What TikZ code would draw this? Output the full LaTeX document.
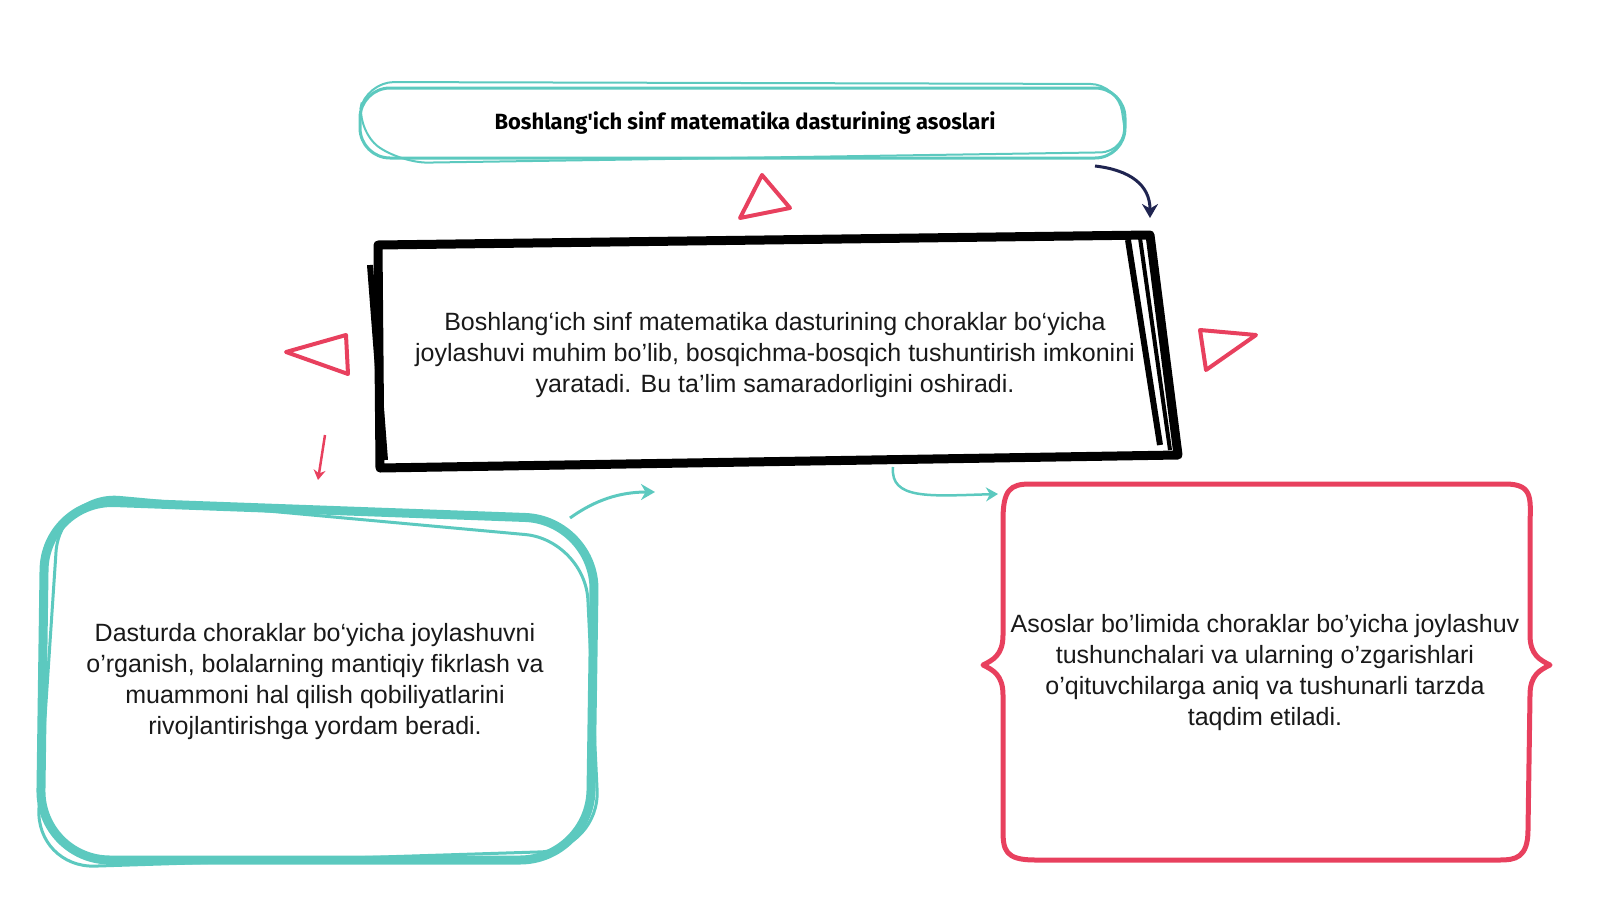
\documentclass[tikz,border=0pt]{standalone}
\usepackage{fontspec}
\setmainfont{Liberation Sans}
\newfontfamily\titlefont{Fira Sans}
\usetikzlibrary{arrows.meta}
\definecolor{teal1}{HTML}{5CC9BF}
\definecolor{red1}{HTML}{E8405E}
\definecolor{navy1}{HTML}{1F2450}
\begin{document}
\begin{tikzpicture}[x=1pt,y=-1pt,
 body/.style={align=center,font=\fontsize{25}{31}\selectfont,text=black!90},
 tri/.style={draw=red1,line width=4pt,line join=round},
 arr/.style={line width=3pt,-{Stealth[length=14pt,width=16pt]}}]
\useasboundingbox (0,0) rectangle (1600,900);
% title box
\draw[teal1,line width=3pt,rounded corners=30pt] (360,88) rectangle (1125,158);
\draw[teal1,line width=2pt,rounded corners=28pt] (366,82) -- (1118,84) -- (1128,152) -- (400,163) -- (356,130) -- cycle;
\node[font=\titlefont\bfseries\fontsize{22}{24}\selectfont] (t) at (745,123) {Boshlang'ich sinf matematika dasturining asoslari};
% black box
\draw[black,line width=9pt,line join=round] (378,245) -- (1150,235) -- (1178,455) -- (380,468) -- cycle;
\draw[black,line width=6pt] (370,265) -- (385,460);
\draw[black,line width=6pt] (1128,240) -- (1160,445);
\draw[black,line width=4pt] (1140,238) -- (1170,450);
\node[body] (m) at (775,355) {Boshlang‘ich sinf matematika dasturining choraklar bo‘yicha\\joylashuvi muhim bo'lib, bosqichma-bosqich tushuntirish imkonini\\yaratadi. Bu ta'lim samaradorligini oshiradi.};
% left teal box
\draw[teal1,line width=9pt,rounded corners=70pt] (45,500) -- (595,520) -- (590,860) -- (40,860) -- cycle;
\draw[teal1,line width=3pt,rounded corners=60pt] (60,492) -- (585,540) -- (600,850) -- (35,868) -- cycle;
\node[body] (l) at (315,682) {Dasturda choraklar bo‘yicha joylashuvni\\o'rganish, bolalarning mantiqiy fikrlash va\\muammoni hal qilish qobiliyatlarini\\rivojlantirishga yordam beradi.};
% right red box
\draw[red1,line width=5pt,line join=round] (1030,484) -- (1505,484)
  .. controls (1535,484) and (1530,500) .. (1530,530)
  -- (1530,635) .. controls (1530,655) and (1540,660) .. (1550,665)
  .. controls (1540,670) and (1530,675) .. (1530,695)
  -- (1528,830) .. controls (1528,858) and (1515,860) .. (1500,860)
  -- (1035,860) .. controls (1005,860) and (1003,850) .. (1003,830)
  -- (1003,695) .. controls (1003,675) and (993,670) .. (983,665)
  .. controls (993,660) and (1003,655) .. (1003,635)
  -- (1003,520) .. controls (1003,490) and (1010,484) .. cycle;
\node[body] (r) at (1265,673) {Asoslar bo'limida choraklar bo'yicha joylashuv\\tushunchalari va ularning o'zgarishlari\\o'qituvchilarga aniq va tushunarli tarzda\\taqdim etiladi.};
% triangles
\draw[tri] (762,175) -- (790,208) -- (740,218) -- cycle;
\draw[tri] (286,352) -- (346,335) -- (348,374) -- cycle;
\draw[tri] (1200,330) -- (1256,335) -- (1206,370) -- cycle;
% arrows
\coordinate (a1) at (1095,166);
\coordinate (a2) at (1150,218);
\draw[navy1,arr] (a1) .. controls (1130,170) and (1150,185) .. (a2);
\coordinate (b1) at (325,435);
\coordinate (b2) at (318,480);
\draw[red1,line width=2.5pt,-{Stealth[length=10pt,width=12pt]}] (b1) -- (b2);
\coordinate (c1) at (570,518);
\coordinate (c2) at (655,492);
\draw[teal1,arr] (c1) .. controls (595,500) and (620,492) .. (c2);
\coordinate (d1) at (893,467);
\coordinate (d2) at (998,494);
\draw[teal1,line width=2.5pt,-{Stealth[length=12pt,width=14pt]}] (d1) .. controls (890,500) and (930,496) .. (d2);
\end{tikzpicture}
\end{document}
